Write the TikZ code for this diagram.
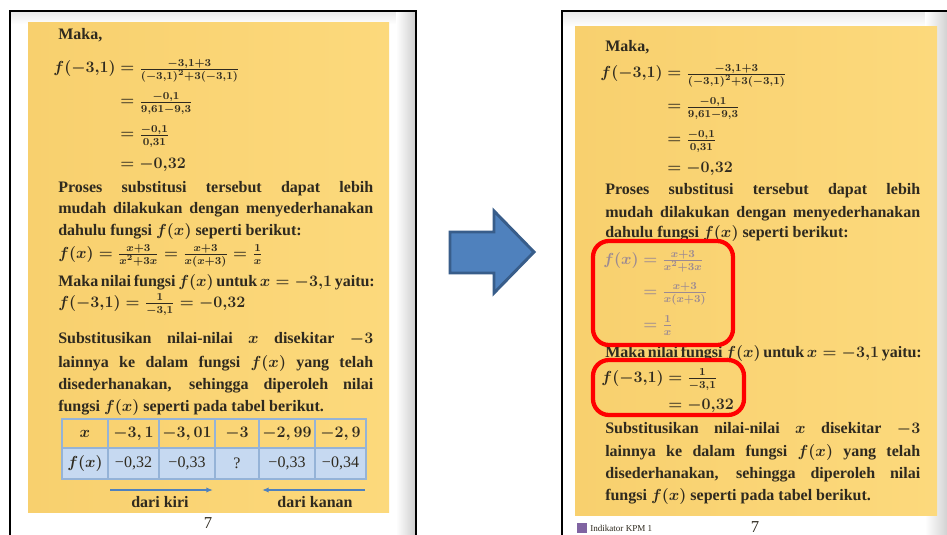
\documentclass[tikz,border=0pt]{standalone}
\usepackage{fontspec}
\setmainfont{Liberation Serif}
\usetikzlibrary{arrows.meta}
\definecolor{pageyel}{HTML}{FCD97C}
\definecolor{pageyelL}{HTML}{F8D06E}
\definecolor{inkc}{HTML}{2F2A1F}
\definecolor{greym}{HTML}{9C8A92}
\definecolor{tblline}{HTML}{95B3D7}
\definecolor{tblfill}{HTML}{C6D9F1}
\definecolor{bigblue}{HTML}{4F81BD}
\definecolor{bigblueD}{HTML}{385D8A}
\definecolor{kpm}{HTML}{8064A2}
\newcommand{\myjust}[1]{\makebox[236.25pt][s]{#1}}
\begin{document}
\boldmath
\begin{tikzpicture}[x=0.75pt,y=-0.75pt,
  txt/.style={anchor=base west, inner sep=0pt, text=inkc, font=\fontsize{12}{14}\selectfont\bfseries},
  txtE/.style={txt, anchor=base east},
  grey/.style={txt, text=greym},
  greyE/.style={grey, anchor=base east},
  pagenum/.style={inner sep=0pt, text=inkc, font=\fontsize{12.5}{14}\selectfont},
  redbox/.style={draw=red, line width=3.2pt, rounded corners=12pt},
  frame/.style={draw=black, line width=1.5pt},
  hcell/.style={draw=tblline, line width=1pt, inner sep=0pt, minimum height=21.75pt, text=inkc, font=\fontsize{12}{14}\selectfont\bfseries},
  bcellB/.style={hcell, fill=tblfill, minimum height=23.25pt},
  bcell/.style={bcellB, font=\fontsize{12}{14}\selectfont},
  tarrow/.style={draw=bigblue, line width=1.1pt, -{Latex[length=5pt,width=4pt]}},
  tlabel/.style={inner sep=0pt, text=inkc, font=\fontsize{12}{14}\selectfont\bfseries}
]
\useasboundingbox (0,0) rectangle (947,535);
\fill[white] (0,0) rectangle (947,535);

% ---------------- left page ----------------
\shade[top color=gray!18, bottom color=white] (10,11) rectangle (416,24);
\shade[left color=white, right color=gray!40] (396,11) rectangle (416,535);
\shade[left color=pageyelL, right color=pageyel] (28,23) rectangle (389,512);
\draw[frame] (10,535) -- (10,11) -- (416,11) -- (416,535);

\node[txt] (l1) at (58,40) {Maka,};
\node[txtE] (lf0) at (116,73) {$f(-3{,}1)$};
\node[txt] (lf1) at (120,73) {$=\frac{-3{,}1+3}{(-3{,}1)^2+3(-3{,}1)}$};
\node[txt] (lf2) at (120,106) {$=\frac{-0{,}1}{9{,}61-9{,}3}$};
\node[txt] (lf3) at (120,139) {$=\frac{-0{,}1}{0{,}31}$};
\node[txt] (lf4) at (120,168) {$=-0{,}32$};
\node[txt] (l2) at (58,192) {\myjust{Proses substitusi tersebut dapat lebih}};
\node[txt] (l3) at (58,214) {\myjust{mudah dilakukan dengan menyederhanakan}};
\node[txt] (l4) at (58,235) {dahulu fungsi $f(x)$ seperti berikut:};
\node[txt] (lg) at (58,258) {$f(x)=\frac{x+3}{x^2+3x}=\frac{x+3}{x(x+3)}=\frac{1}{x}$};
\node[txt] (l5) at (58,286) {\myjust{Maka nilai fungsi $f(x)$ untuk $x=-3{,}1$ yaitu:}};
\node[txt] (lh) at (58,307) {$f(-3{,}1)=\frac{1}{-3{,}1}=-0{,}32$};
\node[txt] (l6) at (58,343) {\myjust{Substitusikan nilai-nilai $x$ disekitar $-3$}};
\node[txt] (l7) at (58,367) {\myjust{lainnya ke dalam fungsi $f(x)$ yang telah}};
\node[txt] (l8) at (58,389) {\myjust{disederhanakan, sehingga diperoleh nilai}};
\node[txt] (l9) at (58,411) {fungsi $f(x)$ seperti pada tabel berikut.};

% table
\node[hcell, minimum width=34.5pt]  (h1) at (85,433.5)  {$x$};
\node[hcell, minimum width=38.25pt] (h2) at (133.5,433.5) {$-3,1$};
\node[hcell, minimum width=42pt]    (h3) at (187,433.5) {$-3,01$};
\node[hcell, minimum width=33pt]    (h4) at (237,433.5) {$-3$};
\node[hcell, minimum width=42pt]    (h5) at (287,433.5) {$-2,99$};
\node[hcell, minimum width=38.25pt] (h6) at (340.5,433.5) {$-2,9$};
\node[bcellB, minimum width=34.5pt]  (b1) at (85,463.5)  {$f(x)$};
\node[bcell, minimum width=38.25pt] (b2) at (133.5,463.5) {−0,32};
\node[bcell, minimum width=42pt]    (b3) at (187,463.5) {−0,33};
\node[bcell, minimum width=33pt]    (b4) at (237,463.5) {?};
\node[bcell, minimum width=42pt]    (b5) at (287,463.5) {−0,33};
\node[bcell, minimum width=38.25pt] (b6) at (340.5,463.5) {−0,34};

\coordinate (ka) at (110,490);
\coordinate (kb) at (213,490);
\coordinate (kc) at (365,490);
\coordinate (kd) at (262,490);
\draw[tarrow] (ka) -- (kb);
\draw[tarrow] (kc) -- (kd);
\node[tlabel] (dk1) at (160,502) {dari kiri};
\node[tlabel] (dk2) at (315,502) {dari kanan};
\node[pagenum] (pn1) at (208,523) {7};

% ---------------- big arrow ----------------
\draw[fill=bigblue, draw=bigblueD, line width=2.2pt, line join=miter]
  (450,232) -- (494,232) -- (494,211) -- (534,252) -- (494,293) -- (494,273) -- (450,273) -- cycle;

% ---------------- right page ----------------
\shade[top color=gray!18, bottom color=white] (562,11) rectangle (947,27);
\shade[left color=white, right color=gray!35] (925,11) rectangle (947,535);
\shade[left color=pageyelL, right color=pageyel] (575,27) rectangle (937,515);
\draw[frame] (562,535) -- (562,11) -- (947,11);

\node[txt] (r1) at (605,52) {Maka,};
\node[txtE] (rf0) at (663,78) {$f(-3{,}1)$};
\node[txt] (rf1) at (667,78) {$=\frac{-3{,}1+3}{(-3{,}1)^2+3(-3{,}1)}$};
\node[txt] (rf2) at (667,111) {$=\frac{-0{,}1}{9{,}61-9{,}3}$};
\node[txt] (rf3) at (667,144) {$=\frac{-0{,}1}{0{,}31}$};
\node[txt] (rf4) at (667,172) {$=-0{,}32$};
\node[txt] (r2) at (605,195) {\myjust{Proses substitusi tersebut dapat lebih}};
\node[txt] (r3) at (605,217) {\myjust{mudah dilakukan dengan menyederhanakan}};
\node[txt] (r4) at (605,238) {dahulu fungsi $f(x)$ seperti berikut:};
\node[greyE] (rg0) at (639,264) {$f(x)$};
\node[grey] (rg1) at (643,264) {$=\frac{x+3}{x^2+3x}$};
\node[grey] (rg2) at (643,296) {$=\frac{x+3}{x(x+3)}$};
\node[grey] (rg3) at (643,329) {$=\frac{1}{x}$};
\node[txt] (r5) at (605,357) {\myjust{Maka nilai fungsi $f(x)$ untuk $x=-3{,}1$ yaitu:}};
\node[txtE] (rh0) at (664,382) {$f(-3{,}1)$};
\node[txt] (rh1) at (668,382) {$=\frac{1}{-3{,}1}$};
\node[txt] (rh2) at (668,409) {$=-0{,}32$};
\node[txt] (r6) at (605,433) {\myjust{Substitusikan nilai-nilai $x$ disekitar $-3$}};
\node[txt] (r7) at (605,456) {\myjust{lainnya ke dalam fungsi $f(x)$ yang telah}};
\node[txt] (r8) at (605,478) {\myjust{disederhanakan, sehingga diperoleh nilai}};
\node[txt] (r9) at (605,500) {fungsi $f(x)$ seperti pada tabel berikut.};

\draw[redbox] (593,241) rectangle (733,345);
\draw[redbox] (593,360) rectangle (744,415);

\node[fill=kpm, inner sep=0pt, minimum width=7.5pt, minimum height=7.5pt] (kpmsq) at (582,527.5) {};
\node[anchor=west, inner sep=0pt, text=inkc, font=\fontsize{6.8}{8}\selectfont] (kpmtx) at (590,528) {Indikator KPM 1};
\node[pagenum] (pn2) at (755,527) {7};
\end{tikzpicture}
\end{document}
